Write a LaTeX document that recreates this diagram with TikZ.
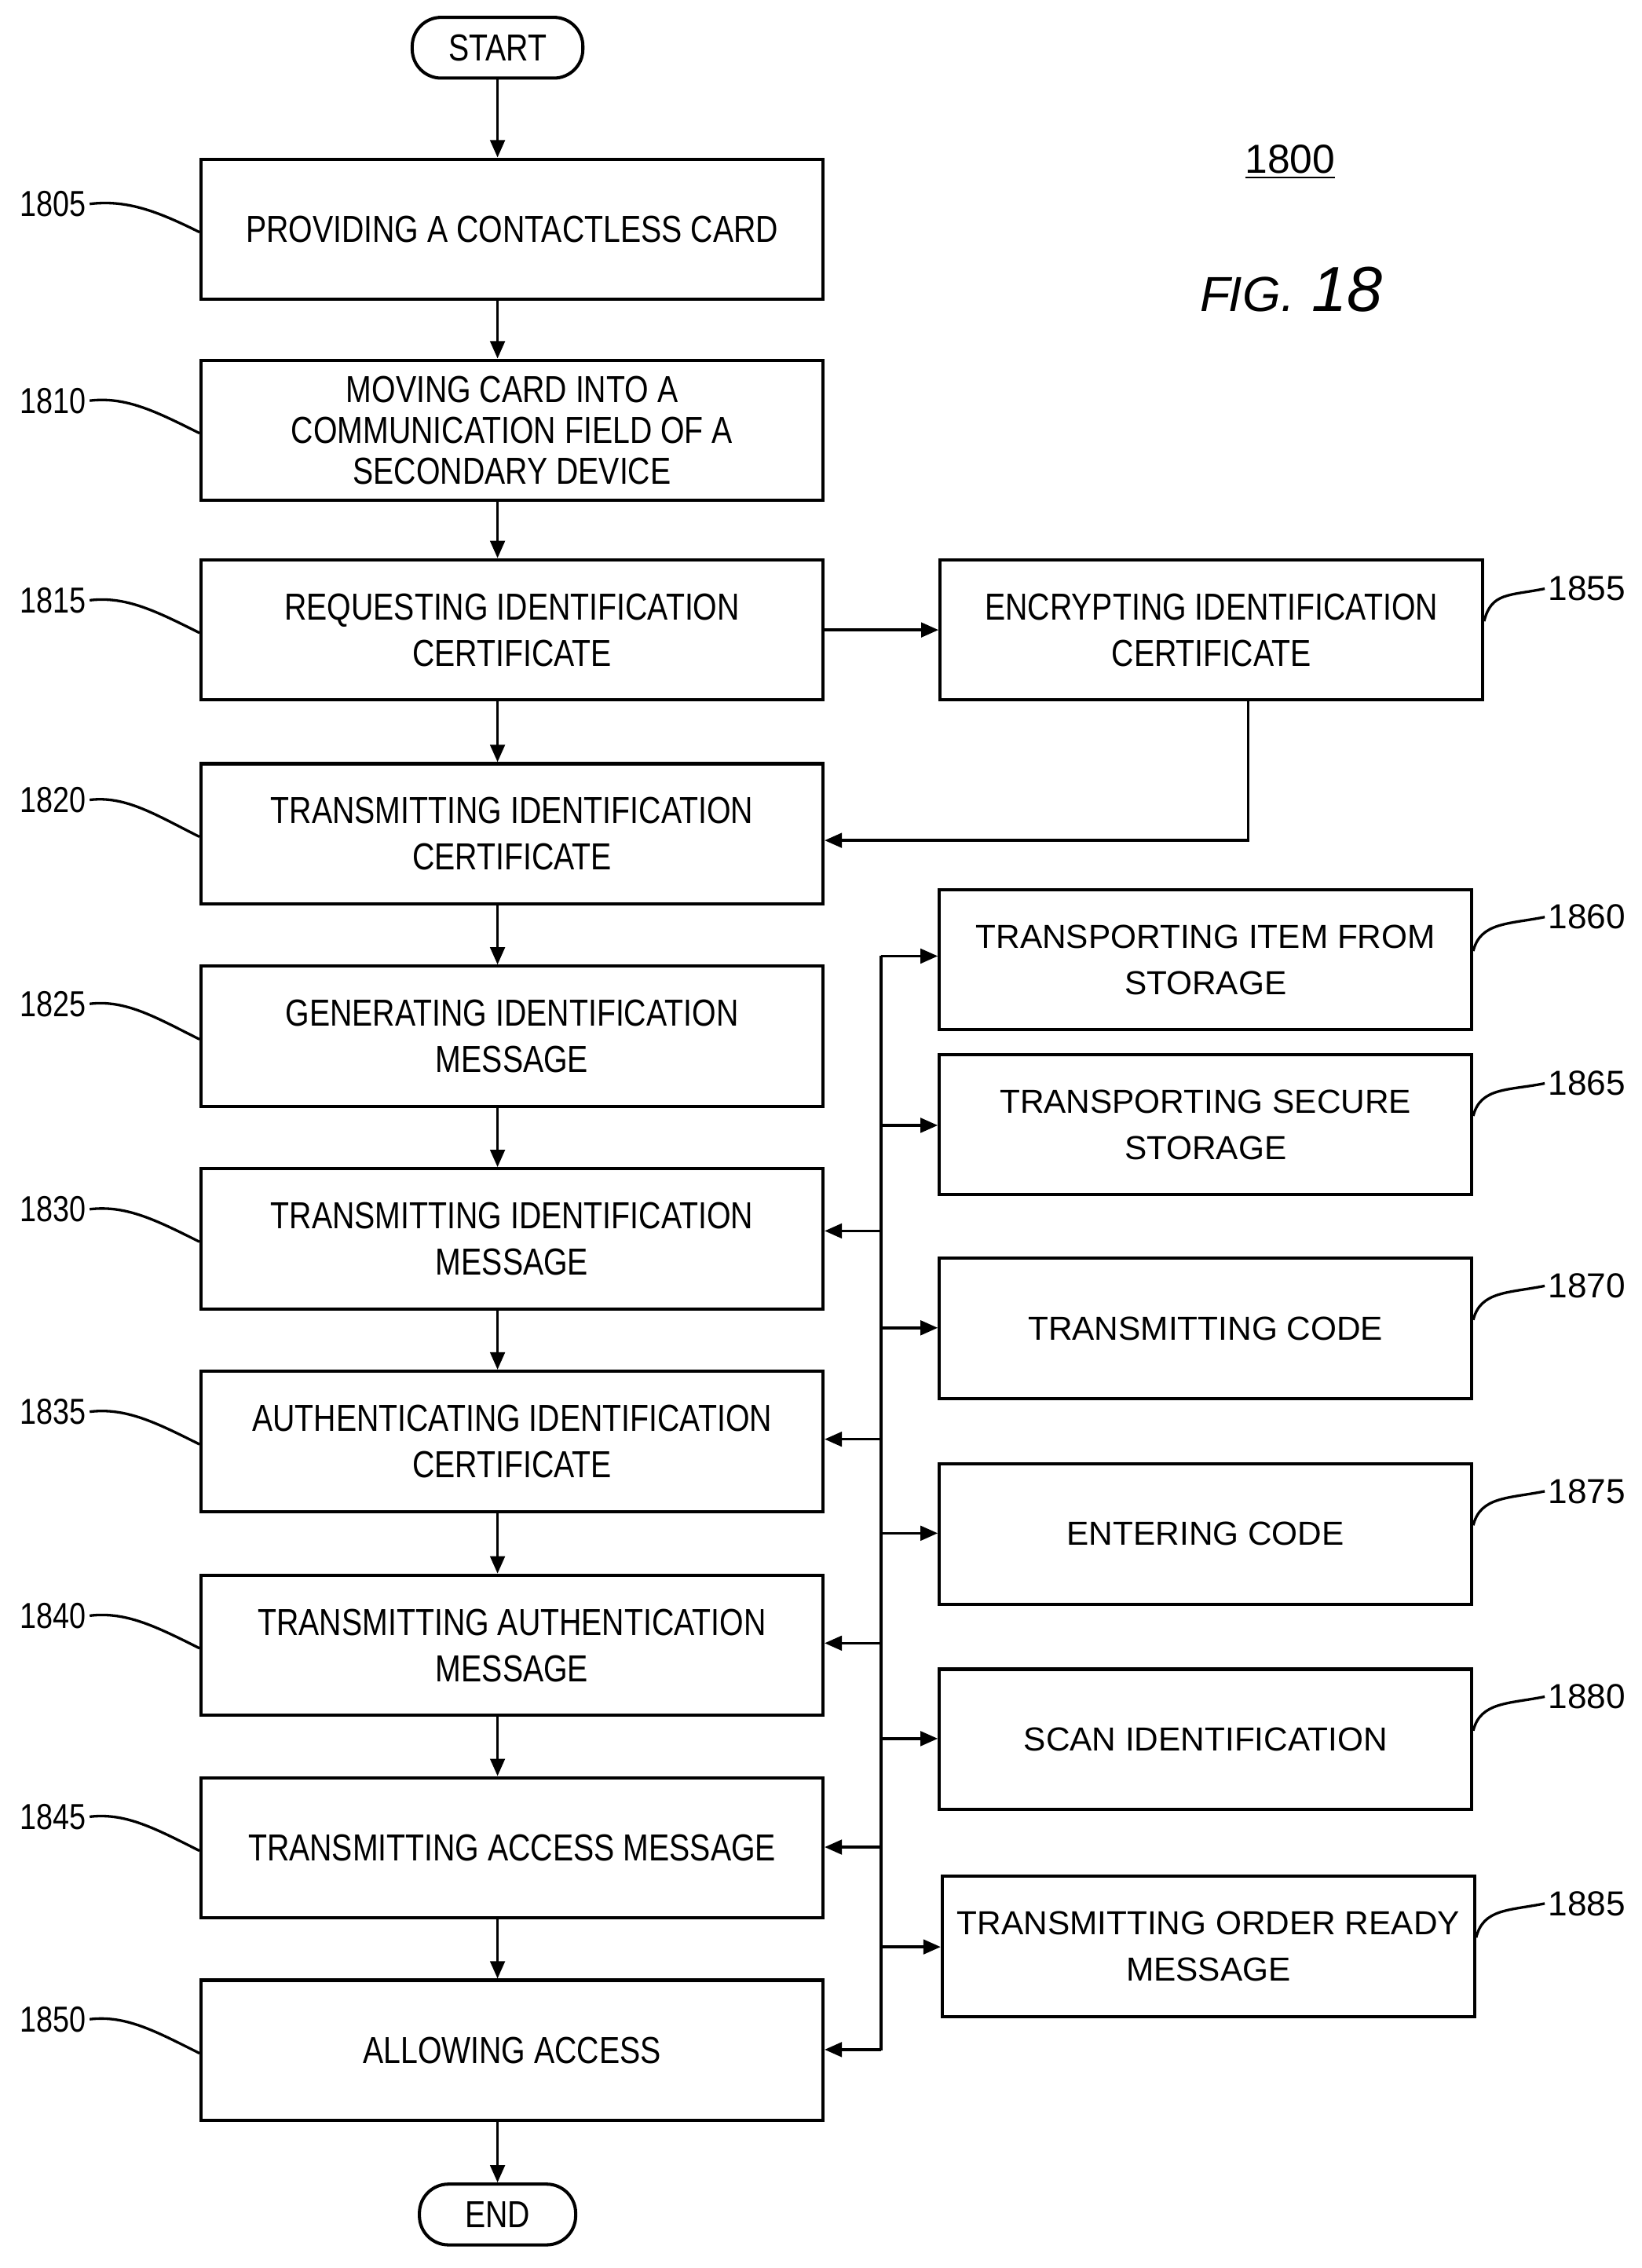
\documentclass[tikz,border=0pt]{standalone}
\usepackage{fontspec}
\setmainfont{Liberation Sans}
\newfontfamily\narrowfont[FakeStretch=0.82]{Liberation Sans}
\usetikzlibrary{positioning, calc, arrows.meta}

\tikzset{
    box/.style={draw, line width=1.1pt, minimum width=215pt, minimum height=48.5pt, align=center, font=\narrowfont\fontsize{13}{16}\selectfont},
    side/.style={draw, line width=1.1pt, minimum width=184pt, minimum height=48.5pt, inner xsep=2pt, align=center, font=\fontsize{11.5}{16}\selectfont},
    term/.style={draw, line width=1.1pt, rounded corners=10pt, minimum height=21pt, align=center, font=\narrowfont\fontsize{13}{15}\selectfont},
    flow/.style={-{Triangle[length=6pt,width=5pt]}, line width=1pt},
    lbl/.style={font=\narrowfont\fontsize{12.5}{14}\selectfont, inner sep=1pt},
    rlbl/.style={font=\fontsize{12}{14}\selectfont, inner sep=1pt},
    lead/.style={line width=0.9pt}
}

\begin{document}
\begin{tikzpicture}[x=0.5pt, y=-0.5pt]
    \useasboundingbox (0,0) rectangle (1135,1568);

    % Terminals
    \node[term, minimum width=59pt] (start) at (344,33) {START};
    \node[term, minimum width=54pt] (end) at (344,1531) {END};

    % Main column
    \node[box] (s1805) at (354,158.5) {PROVIDING A CONTACTLESS CARD};
    \node[box] (s1810) at (354,297.5) {MOVING CARD INTO A\\[-2pt]COMMUNICATION FIELD OF A\\[-2pt]SECONDARY DEVICE};
    \node[box] (s1815) at (354,435.5) {REQUESTING IDENTIFICATION\\CERTIFICATE};
    \node[box] (s1820) at (354,576.5) {TRANSMITTING IDENTIFICATION\\CERTIFICATE};
    \node[box] (s1825) at (354,716.5) {GENERATING IDENTIFICATION\\MESSAGE};
    \node[box] (s1830) at (354,856.5) {TRANSMITTING IDENTIFICATION\\MESSAGE};
    \node[box] (s1835) at (354,996.5) {AUTHENTICATING IDENTIFICATION\\CERTIFICATE};
    \node[box] (s1840) at (354,1137.5) {TRANSMITTING AUTHENTICATION\\MESSAGE};
    \node[box] (s1845) at (354,1277.5) {TRANSMITTING ACCESS MESSAGE};
    \node[box] (s1850) at (354,1417.5) {ALLOWING ACCESS};

    % Side column
    \node[box, minimum width=187.5pt] (s1855) at (837.5,435.5) {ENCRYPTING IDENTIFICATION\\CERTIFICATE};
    \node[side] (s1860) at (833.5,663.5) {TRANSPORTING ITEM FROM\\STORAGE};
    \node[side] (s1865) at (833.5,777.5) {TRANSPORTING SECURE\\STORAGE};
    \node[side] (s1870) at (833.5,918.5) {TRANSMITTING CODE};
    \node[side] (s1875) at (833.5,1060.5) {ENTERING CODE};
    \node[side] (s1880) at (833.5,1202.5) {SCAN IDENTIFICATION};
    \node[side] (s1885) at (835.5,1345.5) {TRANSMITTING ORDER READY\\MESSAGE};

    % Title
    \node[font=\fontsize{14}{16}\selectfont] (num) at (892,112) {\underline{1800}};
    \node[font=\itshape\fontsize{22}{24}\selectfont] (fig) at (893,200) {{\fontsize{17}{20}\selectfont F\kern-0.5pt IG.} 18};

    % Main flow
    \draw[flow] (start) -- (start |- s1805.north);
    \foreach \a/\b in {1805/1810, 1810/1815, 1815/1820, 1820/1825, 1825/1830, 1830/1835, 1835/1840, 1840/1845, 1845/1850}
        \draw[flow] (start |- s\a.south) -- (start |- s\b.north);
    \draw[flow] (start |- s1850.south) -- (end);

    % Encryption branch
    \draw[flow] (s1815) -- (s1855);
    \coordinate (ret) at (863,581);
    \draw[flow] (ret |- s1855.south) -- (ret) -- (ret -| s1820.east);

    % Bus
    \coordinate (bus) at (609,661);
    \draw[line width=1.1pt] (bus) -- (bus |- s1850);
    \foreach \n/\y in {1860/661, 1865/778, 1870/918, 1875/1060, 1880/1202, 1885/1346}
        \draw[flow] (609,\y) -- (s\n.west |- 0,\y);
    \foreach \n/\y in {1830/851, 1835/995, 1840/1136, 1845/1277, 1850/1417}
        \draw[flow] (609,\y) -- (s\n.east |- 0,\y);

    % Reference numerals, left
    \foreach \n/\y in {1805/141, 1810/277, 1815/415, 1820/553, 1825/694, 1830/836, 1835/976, 1840/1117, 1845/1256, 1850/1396} {
        \node[lbl, anchor=east] (n\n) at (62,\y) {\n};
        \draw[lead] (n\n.east) .. controls +(25,-3) and +(-30,-15) .. ($(s\n.west)+(0,2)$);
    }

    % Reference numerals, right
    \foreach \n/\y in {1855/407, 1860/634, 1865/749, 1870/889, 1875/1031, 1880/1173, 1885/1316} {
        \node[rlbl, anchor=west] (n\n) at (1068,\y) {\n};
        \draw[lead] (n\n.west) .. controls +(-25,5) and +(5,-20) .. ($(s\n.east)+(0,-6)$);
    }
\end{tikzpicture}
\end{document}
